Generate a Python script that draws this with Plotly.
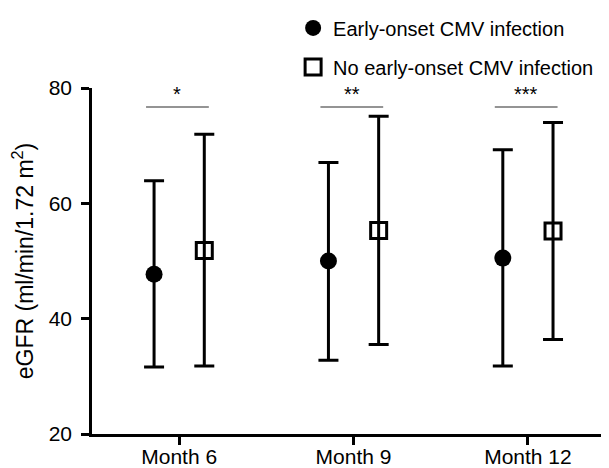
import plotly.graph_objects as go

months = ["Month 6", "Month 9", "Month 12"]
early_mean = [47.7, 50.0, 50.5]
early_upper = [63.9, 67.1, 69.3]
early_lower = [31.6, 32.8, 31.8]
noearly_mean = [51.8, 55.3, 55.2]
noearly_upper = [72.0, 75.1, 74.0]
noearly_lower = [31.8, 35.5, 36.4]
sig_labels = ["*", "**", "***"]
y_ticks = [20, 40, 60, 80]

FONT = "Liberation Sans, Arial, Helvetica, sans-serif"
idx = list(range(len(months)))
off = 0.144

fig = go.Figure()
fig.add_trace(go.Scatter(
    x=[i - off for i in idx], y=early_mean, mode="markers",
    name="Early-onset CMV infection", legendgroup="a",
    marker=dict(symbol="circle", size=17, color="black"),
    error_y=dict(type="data", symmetric=False,
                 array=[u - m for u, m in zip(early_upper, early_mean)],
                 arrayminus=[m - l for m, l in zip(early_mean, early_lower)],
                 color="black", thickness=3, width=10),
))
fig.add_trace(go.Scatter(
    x=[i + off for i in idx], y=noearly_mean, mode="markers",
    name="No early-onset CMV infection", legendgroup="b",
    marker=dict(symbol="square", size=16, color="rgba(0,0,0,0)",
                line=dict(color="black", width=3)),
    error_y=dict(type="data", symmetric=False,
                 array=[u - m for u, m in zip(noearly_upper, noearly_mean)],
                 arrayminus=[m - l for m, l in zip(noearly_mean, noearly_lower)],
                 color="black", thickness=3, width=10),
))

sig_y = 76.7
for i, lab in zip(idx, sig_labels):
    fig.add_shape(type="line", xref="x", yref="y", x0=i - 0.19, x1=i + 0.17,
                  y0=sig_y, y1=sig_y, line=dict(color="#707070", width=1.5))
    fig.add_annotation(x=i - 0.01, y=sig_y, xref="x", yref="y", text=lab,
                       showarrow=False, yanchor="bottom", yshift=0,
                       font=dict(family=FONT, size=20, color="black"))

# page body adds an 8px offset, so the figure is sized to the visible area
fig.update_layout(
    width=601, height=460,
    margin=dict(l=84, r=0, t=78, b=34),
    paper_bgcolor="white", plot_bgcolor="white",
    font=dict(family=FONT, size=21, color="black"),
    showlegend=True,
    legend=dict(x=0.389, xanchor="left", y=1.23, yanchor="top",
                font=dict(family=FONT, size=20, color="black"),
                tracegroupgap=10, traceorder="grouped",
                bgcolor="rgba(0,0,0,0)", itemsizing="trace"),
    xaxis=dict(range=[-0.5, 2.465], tickvals=idx, ticktext=months,
               automargin=False,
               showgrid=False, zeroline=False, showline=True,
               linecolor="black", linewidth=2.5, ticks="outside",
               ticklen=8, tickwidth=2.5, tickcolor="black",
               ticklabelstandoff=-6,
               tickfont=dict(family=FONT, size=21, color="black")),
    yaxis=dict(range=[20, 80], tickvals=y_ticks, automargin=False,
               showgrid=False, zeroline=False, showline=True,
               linecolor="black", linewidth=2.5, ticks="outside",
               ticklen=8, tickwidth=2.5, tickcolor="black",
               ticklabelstandoff=5,
               tickfont=dict(family=FONT, size=21, color="black"),
               title=dict(text="eGFR (ml/min/1.72 m<sup>2</sup>)",
                          font=dict(family=FONT, size=23, color="black"),
                          standoff=9)),
)

fig.write_html("out.html")
